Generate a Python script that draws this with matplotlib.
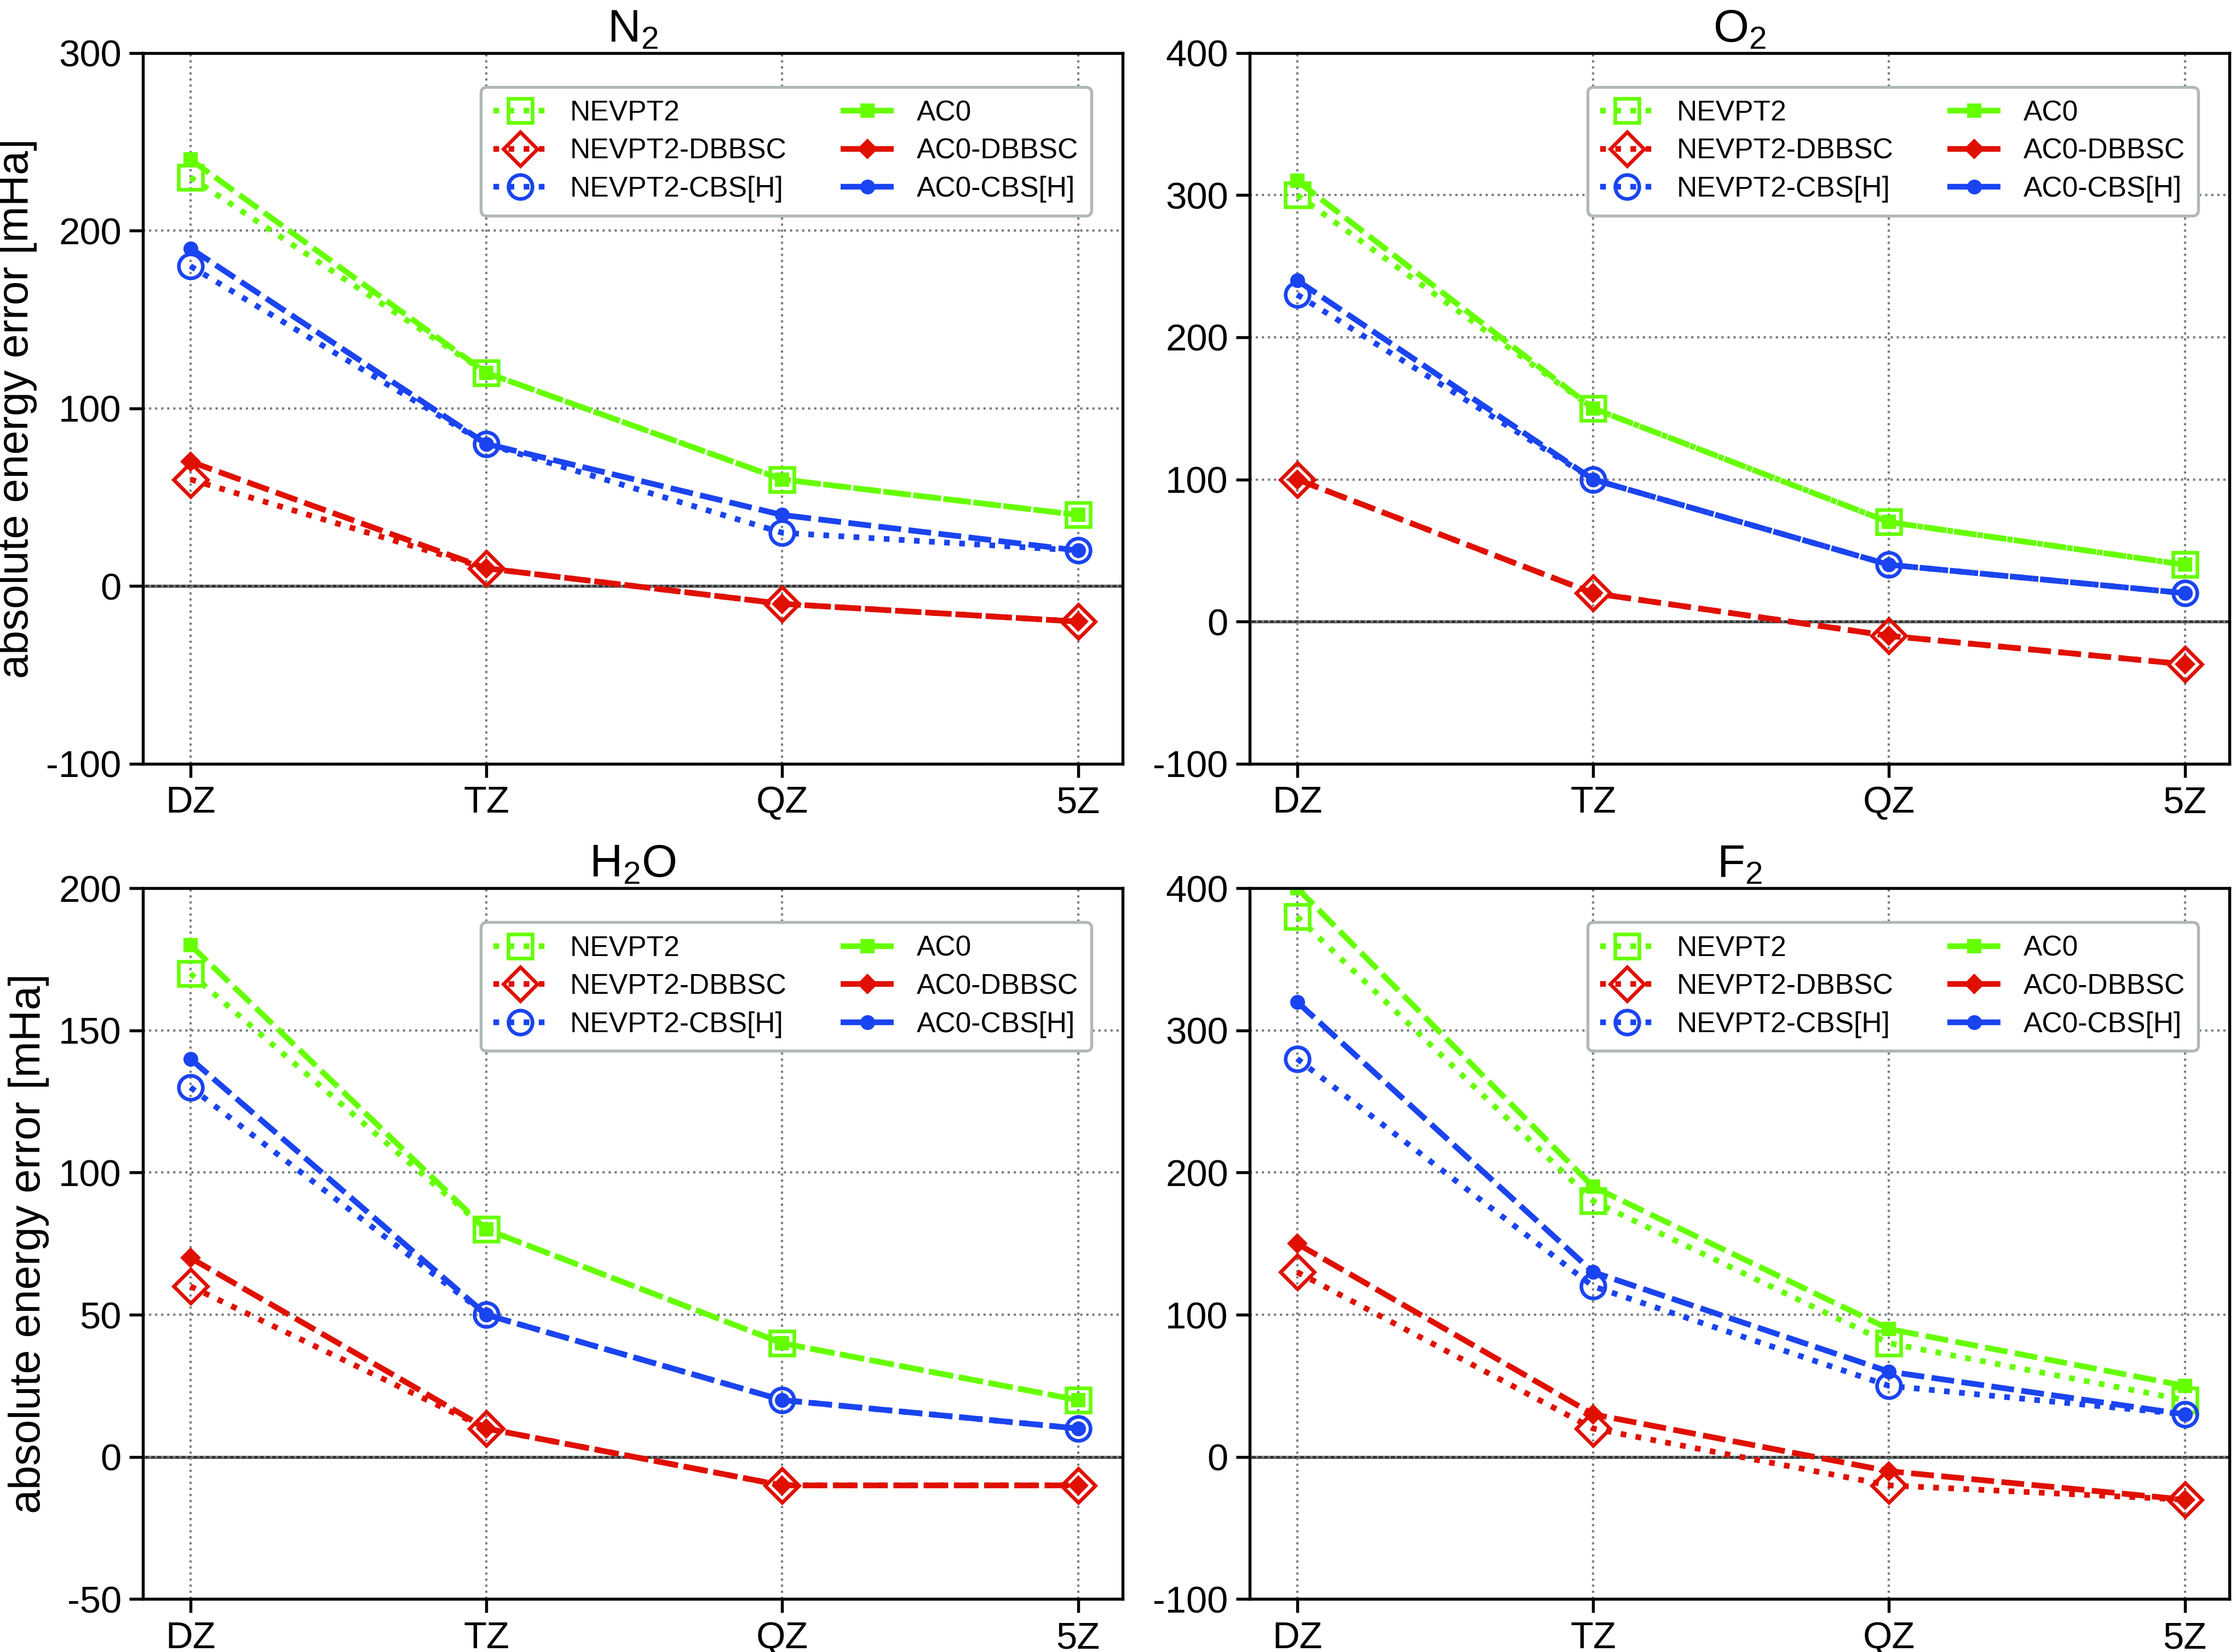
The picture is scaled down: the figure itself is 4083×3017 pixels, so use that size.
import numpy as np
import matplotlib.pyplot as plt

plt.rcParams['font.family'] = ['Liberation Sans', 'DejaVu Sans']
plt.rcParams['mathtext.fontset'] = 'custom'
plt.rcParams['mathtext.rm'] = 'Liberation Sans'
plt.rcParams['axes.unicode_minus'] = False

basis = ['DZ', 'TZ', 'QZ', '5Z']
molecules = ['N$_2$', 'O$_2$', 'H$_2$O', 'F$_2$']

# absolute energy errors [mHa], one list per molecule
nevpt2 = [[230, 120, 60, 40], [300, 150, 70, 40], [170, 80, 40, 20], [380, 180, 80, 40]]
nevpt2_dbbsc = [[60, 10, -10, -20], [100, 20, -10, -30], [60, 10, -10, -10], [130, 20, -20, -30]]
nevpt2_cbs = [[180, 80, 30, 20], [230, 100, 40, 20], [130, 50, 20, 10], [280, 120, 50, 30]]
ac0 = [[240, 120, 60, 40], [310, 150, 70, 40], [180, 80, 40, 20], [400, 190, 90, 50]]
ac0_dbbsc = [[70, 10, -10, -20], [100, 20, -10, -30], [70, 10, -10, -10], [150, 30, -10, -30]]
ac0_cbs = [[190, 80, 40, 20], [240, 100, 40, 20], [140, 50, 20, 10], [320, 130, 60, 30]]

ylims = [(-100, 300), (-100, 400), (-50, 200), (-100, 400)]
ysteps = [100, 100, 50, 100]

green = '#66ff00'
red = '#e01000'
blue = '#1a44f0'

fig, axes = plt.subplots(2, 2, figsize=(4083 / 300, 3017 / 300), dpi=300)
fig.subplots_adjust(left=0.064, right=0.997, bottom=0.032, top=0.968, wspace=0.13, hspace=0.175)

x = np.arange(len(basis))
dash = (4, 1.3)
for i, ax in enumerate(axes.flat):
    ax.axhline(0, color='#333333', lw=1.3, zorder=1)
    ax.plot(x, nevpt2[i], ':', color=green, lw=2.5, marker='s', ms=10.5, mfc='none', mew=1.6, label='NEVPT2')
    ax.plot(x, nevpt2_dbbsc[i], ':', color=red, lw=2.5, marker='D', ms=10.5, mfc='none', mew=1.6, label='NEVPT2-DBBSC')
    ax.plot(x, nevpt2_cbs[i], ':', color=blue, lw=2.5, marker='o', ms=10.5, mfc='none', mew=1.6, label='NEVPT2-CBS[H]')
    ax.plot(x, ac0[i], '--', dashes=dash, color=green, lw=2.5, marker='s', ms=5.5, label='AC0')
    ax.plot(x, ac0_dbbsc[i], '--', dashes=dash, color=red, lw=2.5, marker='D', ms=5.5, label='AC0-DBBSC')
    ax.plot(x, ac0_cbs[i], '--', dashes=dash, color=blue, lw=2.5, marker='o', ms=5.5, label='AC0-CBS[H]')

    ax.set_xlim(-0.16, 3.15)
    ax.set_ylim(*ylims[i])
    ax.set_yticks(np.arange(ylims[i][0], ylims[i][1] + 1, ysteps[i]))
    ax.set_xticks(x)
    ax.set_xticklabels(basis)
    ax.tick_params(labelsize=16.5, width=1.3, length=6)
    ax.grid(True, ls=':', color='#7a8080', lw=1.0)
    for s in ax.spines.values():
        s.set_linewidth(1.3)
    ax.set_title(molecules[i], fontsize=20, pad=5)
    if i % 2 == 0:
        ax.set_ylabel('absolute energy error [mHa]', fontsize=19, labelpad=4)
    leg = ax.legend(ncol=2, loc='upper right', bbox_to_anchor=(0.968, 0.952), fontsize=12.4,
                    framealpha=1, edgecolor='#b0b8b8', fancybox=True, handlelength=1.9,
                    handletextpad=0.8, columnspacing=1.9, borderpad=0.45, labelspacing=0.4,
                    borderaxespad=0)
    leg.get_frame().set_linewidth(1.3)

fig.savefig('out.png', dpi=300)
